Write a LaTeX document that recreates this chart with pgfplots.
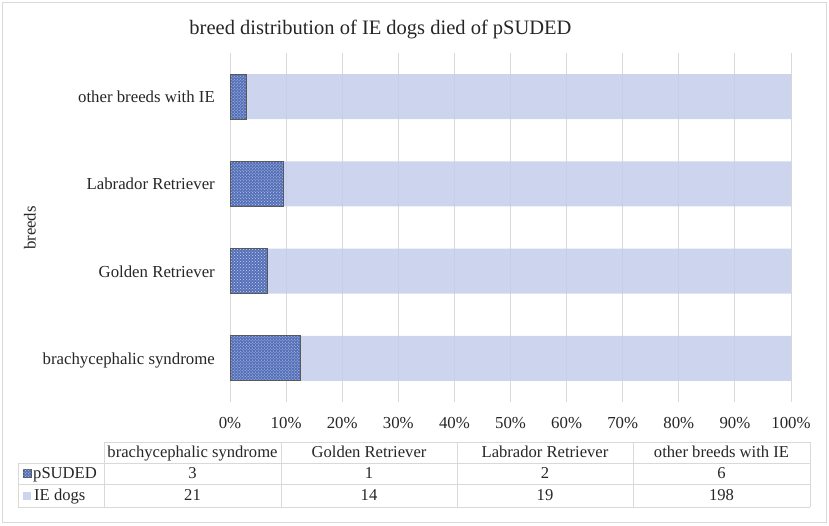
\documentclass[border=0pt]{standalone}
\usepackage{fontspec}
\setmainfont{Liberation Serif}
\usepackage{pgfplots}
\pgfplotsset{compat=1.18}
\usetikzlibrary{patterns}
\definecolor{psud}{HTML}{5570B8}
\definecolor{psudlight}{HTML}{C8D4F0}
\definecolor{iedog}{HTML}{C4CEEB}
\definecolor{iedogsolid}{HTML}{CDD5EE}
\definecolor{gridc}{HTML}{D9D9D9}
\definecolor{bord}{HTML}{595959}
\definecolor{txt}{HTML}{262626}
\begin{document}
\begin{tikzpicture}
\path[use as bounding box] (0,0) rectangle (829bp,-526bp);
\draw[gridc, line width=1bp] (2.5bp,-2.5bp) rectangle (826.5bp,-522bp);
\begin{axis}[
  at={(230bp,-402bp)}, anchor=south west,
  scale only axis, width=561bp, height=349bp,
  xbar stacked, bar width=45bp,
  xmin=0, xmax=100, ymin=-0.5, ymax=3.5,
  xtick={0,10,...,100},
  xticklabel={\pgfmathprintnumber{\tick}\%},
  ytick={0,1,2,3},
  yticklabels={brachycephalic syndrome, Golden Retriever, Labrador Retriever, other breeds with IE},
  /pgf/number format/assume math mode=true,
  xmajorgrids, grid style={gridc, line width=1bp},
  axis line style={draw=none},
  major tick length=0pt,
  tick style={draw=none},
  ticklabel style={font=\fontsize{16.8bp}{19bp}\selectfont, text=txt},
  xticklabel style={anchor=base, yshift=-26bp, inner sep=0pt},
  yticklabel style={anchor=east, inner sep=0pt, xshift=-15bp, text height=12bp, text depth=0bp},
  clip=false,
]
\addplot[fill=psud, draw=bord, line width=1bp,
  postaction={pattern=crosshatch dots, pattern color=psudlight}]
  coordinates {(12.5,0) (6.667,1) (9.524,2) (2.941,3)};
\addplot[fill=iedog, fill opacity=0.85, draw=none]
  coordinates {(87.5,0) (93.333,1) (90.476,2) (97.059,3)};
\end{axis}
% title
\node[anchor=base, font=\fontsize{20.5bp}{24bp}\selectfont, text=txt] at (380.5bp,-34bp) {breed distribution of IE dogs died of pSUDED};
% y axis title
\node[rotate=90, font=\fontsize{16.8bp}{19bp}\selectfont, text=txt] at (30bp,-228bp) {breeds};
% data table
\begin{scope}[gridc, line width=1bp]
\draw (104bp,-442bp) -- (810bp,-442bp);
\draw (18bp,-463bp) -- (810bp,-463bp);
\draw (18bp,-484bp) -- (810bp,-484bp);
\draw (18bp,-507bp) -- (810bp,-507bp);
\draw (18bp,-463bp) -- (18bp,-507bp);
\foreach \x in {104,281,457,633,810} {\draw (\x bp,-442bp) -- (\x bp,-507bp);}
\end{scope}
\begin{scope}[every node/.style={anchor=base, inner sep=0pt, font=\fontsize{16.6bp}{19bp}\selectfont, text=txt}]
\node at (192.5bp,-457bp) {brachycephalic syndrome};
\node at (369bp,-457bp) {Golden Retriever};
\node at (545bp,-457bp) {Labrador Retriever};
\node at (721.5bp,-457bp) {other breeds with IE};
\node at (192.5bp,-478bp) {3};
\node at (369bp,-478bp) {1};
\node at (545bp,-478bp) {2};
\node at (721.5bp,-478bp) {6};
\node at (192.5bp,-500bp) {21};
\node at (369bp,-500bp) {14};
\node at (545bp,-500bp) {19};
\node at (721.5bp,-500bp) {198};
\node[anchor=base west] at (33bp,-478bp) {pSUDED};
\node[anchor=base west] at (34bp,-500bp) {IE dogs};
\end{scope}
\filldraw[fill=psud, draw=bord, line width=0.5bp, postaction={pattern=crosshatch dots, pattern color=psudlight}] (23bp,-469.5bp) rectangle (31bp,-477.5bp);
\fill[iedogsolid] (23bp,-491.5bp) rectangle (31bp,-499.5bp);
\end{tikzpicture}
\end{document}
